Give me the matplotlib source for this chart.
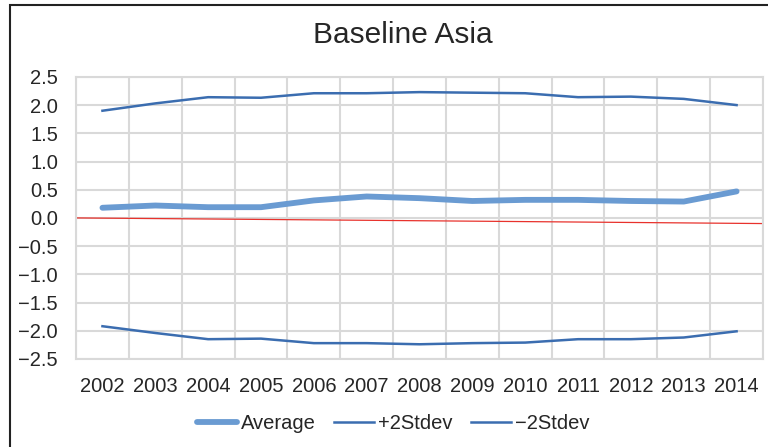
import matplotlib
matplotlib.use('Agg')
from matplotlib import pyplot as plt
from matplotlib.patches import Rectangle

# chart data
years = ['2002', '2003', '2004', '2005', '2006', '2007', '2008',
         '2009', '2010', '2011', '2012', '2013', '2014']
average = [0.18, 0.22, 0.19, 0.19, 0.31, 0.38, 0.35, 0.30, 0.32, 0.32, 0.30, 0.29, 0.47]
plus_2sd = [1.90, 2.03, 2.14, 2.13, 2.21, 2.21, 2.23, 2.22, 2.21, 2.14, 2.15, 2.11, 2.00]
minus_2sd = [-1.92, -2.04, -2.15, -2.14, -2.22, -2.22, -2.24, -2.22, -2.21, -2.15, -2.15, -2.12, -2.01]
trend_ends = [0.0, -0.1]  # red line, left edge to right edge of plot

plt.rcParams['font.family'] = ['Liberation Sans', 'DejaVu Sans']

fig = plt.figure(figsize=(7.68, 4.47), dpi=100)
ax = fig.add_axes([0.099, 0.197, 0.8945, 0.631])

x = list(range(len(years)))
ax.plot(x, average, color='#6a9bd2', lw=4.2, solid_capstyle='round', label='Average', zorder=3)
ax.plot(x, plus_2sd, color='#3b6db0', lw=1.8, label='+2Stdev', zorder=3)
ax.plot(x, minus_2sd, color='#3b6db0', lw=1.8, label='\u22122Stdev', zorder=3)
ax.plot([-0.5, len(years) - 0.5], trend_ends, color='#e8322c', lw=0.9, zorder=2)

ax.set_xlim(-0.5, len(years) - 0.5)
ax.set_ylim(-2.5, 2.5)
ax.set_xticks(x)
ax.set_xticklabels(years)
ax.set_yticks([-2.5, -2.0, -1.5, -1.0, -0.5, 0.0, 0.5, 1.0, 1.5, 2.0, 2.5])
ax.set_yticklabels(['%.1f' % v if v >= 0 else '\u2212%.1f' % -v
                    for v in ax.get_yticks()])

# Excel style grid: vertical lines between categories
ax.set_xticks([i - 0.5 for i in range(len(years) + 1)], minor=True)
ax.grid(True, which='minor', axis='x', color='#d9d9d9', lw=1.5)
ax.grid(True, which='major', axis='y', color='#d9d9d9', lw=1.5)
ax.set_axisbelow(True)
for s in ax.spines.values():
    s.set_color('#d9d9d9')
    s.set_linewidth(1.5)
ax.tick_params(axis='both', which='both', length=0, labelsize=14.5, colors='#262626')
ax.tick_params(axis='y', pad=13)
ax.tick_params(axis='x', pad=13)

fig.text(0.525, 0.922, 'Baseline Asia', ha='center', va='center', fontsize=21.5, color='#262626')

ax.legend(loc='center', bbox_to_anchor=(0.512, 0.052), bbox_transform=fig.transFigure,
          ncol=3, frameon=False, fontsize=14.5, handlelength=2.0, handletextpad=0.2,
          columnspacing=0.9, labelcolor='#262626')

# outer chart border (top and left visible)
fig.patches.append(Rectangle((10 / 768, -0.1), 1.2, 1.1 - 5 / 447,
                             transform=fig.transFigure, fill=False,
                             edgecolor='#222222', lw=1.5))

fig.savefig('out.png', dpi=100)
